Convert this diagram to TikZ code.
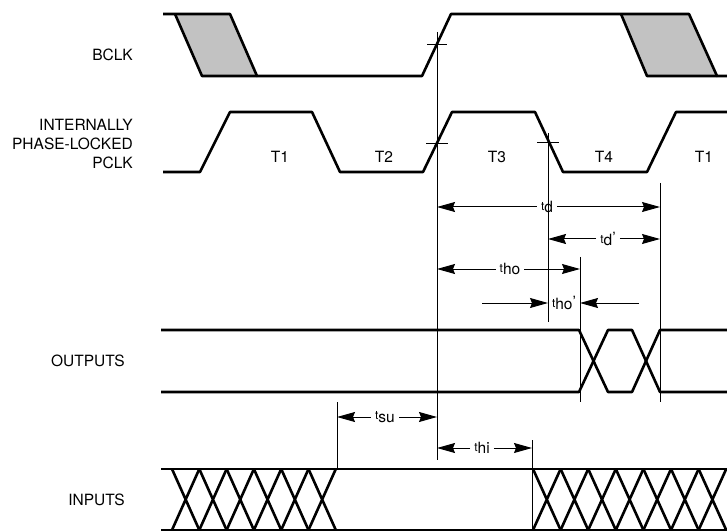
\documentclass[tikz,border=0pt]{standalone}
\usepackage{fontspec}
\setmainfont{TeX Gyre Heros}
\usetikzlibrary{arrows.meta}
\newcommand{\tlab}[2]{{\fontsize{12bp}{12bp}\selectfont t}\raisebox{-2.5bp}{#1}#2}

\begin{document}
\begin{tikzpicture}[
  x=1bp,y=-1bp,
  every node/.style={font=\fontsize{15.5bp}{19bp}\selectfont,inner sep=0pt},
  wave/.style={line width=2.6bp,line join=round},
  guide/.style={line width=0.9bp},
  stipple/.style={fill=black!24},
  dim/.style={line width=1bp,-{Stealth[length=18bp,width=10bp,inset=2bp]}},
  sig/.style={anchor=east,align=right},
  span/.style={inner sep=4bp}
]
  \useasboundingbox (0,0) rectangle (727,532);

  \node[sig] (bclk) at (133,55) {BCLK};
  \node[sig] (pclk) at (133,144) {INTERNALLY\\PHASE-LOCKED\\PCLK};
  \node[sig] (outs) at (125,361) {OUTPUTS};
  \node[sig] (ins) at (125,500) {INPUTS};

  \node (t1) at (280,157) {T1};
  \node (t2) at (384,157) {T2};
  \node (t3) at (497,157) {T3};
  \node (t4) at (604,157) {T4};
  \node (t1b) at (704,157) {T1};

  \fill[stipple] (175,14) -- (230,14) -- (257,76) -- (202,76) -- cycle;
  \fill[stipple] (621,14) -- (689,14) -- (717,76) -- (647,76) -- cycle;
  \draw[wave] (163,14) -- (230,14) -- (257,76) -- (422,76) -- (451,14)
    -- (689,14) -- (717,76) -- (727,76);
  \draw[wave] (175,14) -- (202,76) -- (257,76);
  \draw[wave] (621,14) -- (647,76) -- (717,76);

  \draw[wave] (163,172) -- (200,172) -- (230,112) -- (312,112) -- (340,172)
    -- (423,172) -- (452,112) -- (535,112) -- (563,172) -- (647,172)
    -- (676,112) -- (727,112);

  \draw[wave] (161,330) -- (579,330) -- (608,392) -- (632,392) -- (660,330) -- (727,330);
  \draw[wave] (161,392) -- (579,392) -- (608,330) -- (632,330) -- (660,392) -- (727,392);

  \draw[wave] (161,469) -- (727,469);
  \draw[wave] (161,530) -- (727,530);
  \foreach \k in {0,...,5}
    \draw[wave] ({172+27.3*\k},469) -- ({199.3+27.3*\k},530)
      ({172+27.3*\k},530) -- ({199.3+27.3*\k},469);
  \foreach \k in {0,...,6}
    \draw[wave] ({533+27.6*\k},469) -- ({560.6+27.6*\k},530)
      ({533+27.6*\k},530) -- ({560.6+27.6*\k},469);

  \coordinate (ck) at (437,32);
  \coordinate (ckd) at (437,460);
  \coordinate (fe) at (548,133);
  \coordinate (fed) at (548,322);
  \coordinate (ov1) at (580,257);
  \coordinate (ov1d) at (580,402);
  \coordinate (ov2) at (660,183);
  \coordinate (ov2d) at (660,402);
  \coordinate (su) at (337,402);
  \coordinate (sud) at (337,469);
  \coordinate (hi) at (532,440);
  \coordinate (hid) at (532,530);
  \draw[guide] (ck) -- (ckd);
  \draw[guide] (fe) -- (fed);
  \draw[guide] (ov1) -- (ov1d);
  \draw[guide] (ov2) -- (ov2d);
  \draw[guide] (su) -- (sud);
  \draw[guide] (hi) -- (hid);
  \draw[guide] (427,44) -- (447,44);
  \draw[guide] (426,143) -- (448,143);
  \draw[guide] (537,142) -- (559,142);

  \node[span] (td) at (547,207) {\tlab{d}{}};
  \draw[dim] (td) -- (ck |- td);
  \draw[dim] (td) -- (ov2 |- td);

  \node[span] (tdp) at (608,239) {\tlab{d}{'}};
  \draw[dim] (tdp) -- (fe |- tdp);
  \draw[dim] (tdp) -- (ov2 |- tdp);

  \node[span] (tho) at (510,269) {\tlab{ho}{}};
  \draw[dim] (tho) -- (ck |- tho);
  \draw[dim] (tho) -- (ov1 |- tho);

  \node (thop) at (564,303) {\tlab{ho}{'}};
  \coordinate (hoa) at (482,303);
  \coordinate (hob) at (639,303);
  \draw[dim] (hoa) -- (fe |- hoa);
  \draw[dim] (hob) -- (ov1 |- hob);

  \node[span] (tsu) at (385,417) {\tlab{su}{}};
  \draw[dim] (tsu) -- (su |- tsu);
  \draw[dim] (tsu) -- (ck |- tsu);

  \node[span] (thi) at (482,448) {\tlab{hi}{}};
  \draw[dim] (thi) -- (ck |- thi);
  \draw[dim] (thi) -- (hi |- thi);
\end{tikzpicture}
\end{document}
